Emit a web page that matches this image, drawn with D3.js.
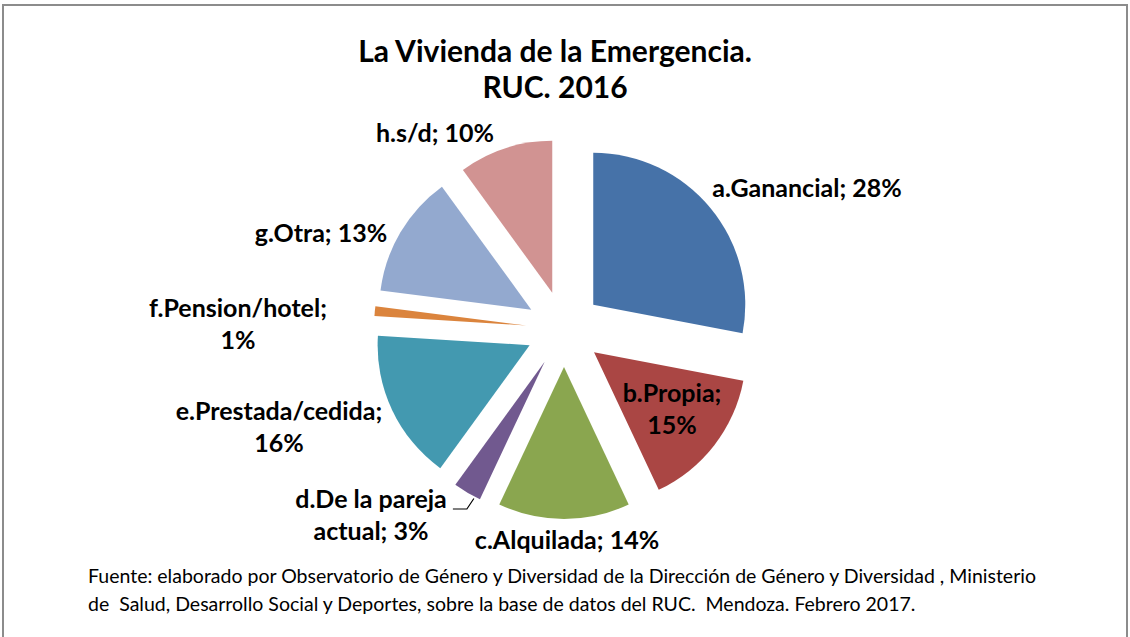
<!DOCTYPE html>
<html>
<head>
<meta charset="utf-8">
<script src="https://cdn.jsdelivr.net/npm/d3@7"></script>
<style>
  body { margin: 0; background: #fff; }
  text { font-family: Lato, "Open Sans", sans-serif; fill: #000; white-space: pre; }
</style>
</head>
<body>
<div id="chart-area"></div>
<script>
let width = 1130,
    height = 637;

// data
let categories = ["a.Ganancial", "b.Propia", "c.Alquilada", "d.De la pareja actual",
                  "e.Prestada/cedida", "f.Pension/hotel", "g.Otra", "h.s/d"];
let values = [28, 15, 14, 3, 16, 1, 13, 10];
let colors = ["#4672A8", "#AA4644", "#8AA64F", "#71598F", "#4399B0", "#DB843D", "#93A9CF", "#D19392"];

// where excel put each label (relative to pie centre) and how it wraps
let labelOffsets = [[243, -132], [108, 73], [3, 220], [-193, 179], [-285, 91], [-326, -12], [-243, -87], [-129, -187]];
let labelBreaks = [false, true, false, true, true, true, false, false];

let titleLines = ["La Vivienda de la Emergencia.", "RUC. 2016"];
let sourceLines = [
  "Fuente: elaborado por Observatorio de Género y Diversidad de la Dirección de Género y Diversidad , Ministerio",
  "de  Salud, Desarrollo Social y Deportes, sobre la base de datos del RUC.  Mendoza. Febrero 2017."
];

let cx = 564, cy = 329,
    radius = 152,
    explode = 38;

let svg = d3.select("#chart-area").append("svg")
    .attr("width", width)
    .attr("height", height);

// frame
svg.append("rect")
  .attr("x", 3).attr("y", 5)
  .attr("width", 1124).attr("height", 700)
  .attr("fill", "none")
  .attr("stroke", "#8c8c8c")
  .attr("stroke-width", 2);

// title
svg.selectAll(".title")
  .data(titleLines)
  .enter().append("text")
  .attr("class", "title")
  .attr("x", 555)
  .attr("y", function(d, i) { return 62 + i * 36; })
  .attr("text-anchor", "middle")
  .style("font-size", "30px")
  .style("font-weight", "bold")
  .text(function(d) { return d; });

let pie = d3.pie().sort(null).value(function(d) { return d; });
let arcs = pie(values);

let arc = d3.arc().innerRadius(0).outerRadius(radius);

function offsetOf(d) {
  let a = (d.startAngle + d.endAngle) / 2;
  return [explode * Math.sin(a), -explode * Math.cos(a)];
}

let pieG = svg.append("g").attr("transform", "translate(" + cx + "," + cy + ")");

pieG.selectAll(".slice")
  .data(arcs)
  .enter().append("path")
  .attr("class", "slice")
  .attr("transform", function(d) { let o = offsetOf(d); return "translate(" + o[0] + "," + o[1] + ")"; })
  .attr("d", arc)
  .attr("fill", function(d, i) { return colors[i]; });

// labels
let labels = pieG.selectAll(".label")
  .data(arcs)
  .enter().append("text")
  .attr("class", "label")
  .attr("text-anchor", "middle")
  .style("font-size", "25px")
  .style("font-weight", "bold");

labels.each(function(d, i) {
  let t = d3.select(this);
  let lines = [categories[i] + "; " + values[i] + "%"];
  if (labelBreaks[i]) {
    if (i == 3) lines = ["d.De la pareja", "actual; " + values[i] + "%"];
    else lines = [categories[i] + ";", values[i] + "%"];
  }
  lines.forEach(function(l, k) {
    t.append("tspan")
      .attr("x", labelOffsets[i][0])
      .attr("y", labelOffsets[i][1] + k * 32)
      .text(l);
  });
});

// leader line for the small purple slice
let dArc = arcs[3];
let dAng = dArc.startAngle + 0.2 * (dArc.endAngle - dArc.startAngle);
let dOff = offsetOf(dArc);
let p0 = [dOff[0] + (radius + 2) * Math.sin(dAng), dOff[1] - (radius + 2) * Math.cos(dAng)];
let p1 = [p0[0] - 7, labelOffsets[3][1] + 1];
let p2 = [p1[0] - 14, p1[1]];
pieG.append("path")
  .attr("d", d3.line()([p2, p1, p0]))
  .attr("fill", "none")
  .attr("stroke", "#000")
  .attr("stroke-width", 1.2);

// source note
svg.selectAll(".source")
  .data(sourceLines)
  .enter().append("text")
  .attr("class", "source")
  .attr("x", 88)
  .attr("y", function(d, i) { return 583 + i * 28; })
  .style("font-size", "19.5px")
  .text(function(d) { return d; });
</script>
</body>
</html>
